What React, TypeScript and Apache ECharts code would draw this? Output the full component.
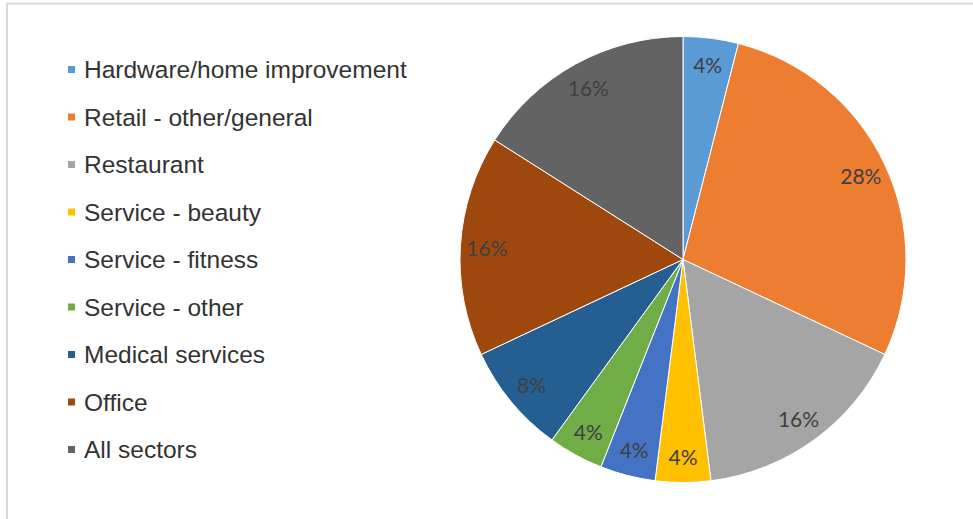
import React, { useEffect, useRef } from "react";
import * as echarts from "echarts";

const sectors = [
  "Hardware/home improvement",
  "Retail - other/general",
  "Restaurant",
  "Service - beauty",
  "Service - fitness",
  "Service - other",
  "Medical services",
  "Office",
  "All sectors",
];
const shares = [4, 28, 16, 4, 4, 4, 8, 16, 16];
const sliceColors = [
  "#5B9BD5",
  "#ED7D31",
  "#A5A5A5",
  "#FFC000",
  "#4472C4",
  "#70AD47",
  "#255E91",
  "#9E480E",
  "#636363",
];

export default function App() {
  const ref = useRef<HTMLDivElement>(null);

  useEffect(() => {
    if (!ref.current) return;
    const chart = echarts.init(ref.current, undefined, { renderer: "svg" });
    const R = 223;
    const center = [683, 259.5];
    const data = sectors.map((name, i) => ({
      name,
      value: shares[i],
      itemStyle: { color: sliceColors[i] },
    }));

    chart.setOption({
      animation: false,
      backgroundColor: "#ffffff",
      legend: {
        orient: "vertical",
        left: 61,
        top: 52,
        icon: "rect",
        itemWidth: 9,
        itemHeight: 9,
        itemGap: 22.5,
        data: sectors,
        textStyle: {
          fontFamily: "Liberation Sans, Arial, sans-serif",
          fontSize: 24.5,
          lineHeight: 25,
          color: "#333333",
          padding: [0, 0, 0, 3],
        },
        selectedMode: false,
      },
      graphic: [
        {
          type: "line",
          shape: { x1: 6, y1: 3.5, x2: 973, y2: 3.5 },
          style: { stroke: "#d9d9d9", lineWidth: 2 },
          silent: true,
        },
        {
          type: "line",
          shape: { x1: 7, y1: 3, x2: 7, y2: 519 },
          style: { stroke: "#d9d9d9", lineWidth: 2 },
          silent: true,
        },
      ],
      series: [
        {
          type: "pie",
          center,
          radius: [0, R],
          startAngle: 90,
          clockwise: true,
          avoidLabelOverlap: false,
          label: { show: false },
          labelLine: { show: false },
          itemStyle: { borderColor: "#ffffff", borderWidth: 1 },
          emphasis: { disabled: true },
          data,
        },
        {
          // transparent ring that only carries the percentage labels
          type: "pie",
          center,
          radius: [164, R],
          startAngle: 90,
          clockwise: true,
          avoidLabelOverlap: false,
          silent: true,
          itemStyle: { color: "rgba(0,0,0,0)", borderWidth: 0 },
          label: {
            show: true,
            position: "inside",
            formatter: (p: any) => `${p.value}%`,
            fontFamily: "Lato, Open Sans, sans-serif",
            fontSize: 21,
            color: "#404040",
          },
          labelLine: { show: false },
          emphasis: { disabled: true },
          data: sectors.map((name, i) => ({ name, value: shares[i] })),
        },
      ],
    });

    return () => chart.dispose();
  }, []);

  return (
    <div
      ref={ref}
      style={{ position: "fixed", left: 0, top: 0, width: 973, height: 519 }}
    />
  );
}
